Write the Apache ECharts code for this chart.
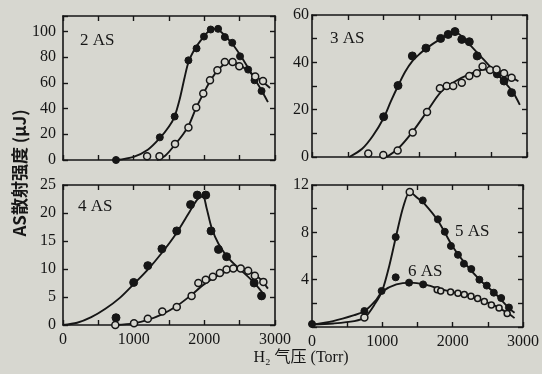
<!DOCTYPE html>
<html>
<head>
<meta charset="utf-8">
<script src="https://cdn.jsdelivr.net/npm/echarts@6/dist/echarts.min.js"></script>
<style>
  html, body { margin: 0; padding: 0; background: #d7d7d0; }
  #chart { width: 542px; height: 374px; }
</style>
</head>
<body>
<div id="chart"></div>
<script>
const as2Solid = [[750,0],[1370,17.6],[1580,33.8],[1775,77.5],[1890,86.8],[1995,96],[2090,101.5],[2195,102],[2290,95.6],[2395,91.2],[2505,80.6],[2620,70.3],[2710,62],[2810,53.7]];
const as2Open = [[1190,3],[1365,3],[1585,12.4],[1775,25.3],[1885,40.8],[1985,51.7],[2080,62],[2185,69.8],[2290,76.2],[2400,76.2],[2495,73],[2720,65],[2830,61.5]];
const as3Solid = [[1000,17],[1200,30.2],[1400,42.7],[1590,46],[1795,50.1],[1900,51.8],[1995,53],[2090,49.7],[2195,48.7],[2305,42.7],[2585,35.1],[2680,32.1],[2785,27.2]];
const as3Open = [[785,1.5],[995,0.8],[1195,2.7],[1405,10.4],[1605,19],[1785,29],[1880,30],[1970,30],[2090,31.4],[2195,34.2],[2300,35.4],[2380,38.2],[2485,36.8],[2575,37],[2680,35.4],[2785,33.5]];
const as4Solid = [[750,1.3],[1000,7.6],[1200,10.6],[1400,13.6],[1610,16.8],[1805,21.5],[1900,23.2],[2020,23.2],[2095,16.8],[2200,13.5],[2315,12.2],[2705,7.5],[2810,5.2]];
const as4Open = [[740,0],[1005,0.3],[1200,1.1],[1405,2.4],[1610,3.2],[1820,5.2],[1915,7.5],[2020,8.1],[2120,8.6],[2220,9.3],[2315,9.9],[2410,10.1],[2515,10.1],[2620,9.7],[2715,8.8],[2835,7.7]];
const as5Solid = [[0,0.25],[990,3.05],[1190,7.6],[1575,10.7],[1790,9.1],[1888,8.05],[1975,6.85],[2075,6.1],[2160,5.35],[2265,4.9],[2380,4.0],[2485,3.5],[2585,2.9],[2690,2.45],[2800,1.65]];
const as5Open = [[745,0.8],[1390,11.4]];
const as6Solid = [[745,1.35],[1190,4.2],[1380,3.75],[1580,3.6]];
const as6Open = [[1780,3.15],[1830,3.05],[1970,2.95],[2075,2.85],[2165,2.75],[2260,2.6],[2355,2.4],[2450,2.15],[2550,1.85],[2660,1.6],[2775,1.15]];

// fitted curves as drawn in the figure
const as2SolidCurve = [[750,0],[1000,2.5],[1200,8],[1370,17],[1500,26],[1580,34],[1650,47],[1720,64],[1775,76],[1850,85],[1950,93],[2050,99.5],[2150,102],[2250,99],[2400,90],[2550,78],[2700,64],[2800,55],[2900,45]];
const as2OpenCurve = [[1330,0],[1450,3.5],[1585,12],[1700,20],[1780,27],[1880,40],[1990,52],[2100,63],[2200,70.5],[2300,75],[2400,76],[2500,74],[2600,70],[2700,66],[2800,62],[2930,56]];
const as3SolidCurve = [[520,0],[700,3.5],[850,9],[1000,16.5],[1100,23.5],[1200,30],[1300,36],[1400,40.5],[1500,43.5],[1600,46],[1800,50],[1950,52.5],[2050,52],[2200,47.5],[2400,41],[2600,34.5],[2800,27.5],[2900,22]];
const as3OpenCurve = [[1040,0],[1200,3.5],[1400,10.5],[1600,19],[1800,27.5],[2000,32],[2200,35],[2400,37],[2550,37],[2700,35],[2880,32]];
const as4SolidCurve = [[0,0],[200,0.4],[400,1.4],[600,2.9],[800,4.8],[1000,7.3],[1200,9.9],[1400,12.9],[1600,16.3],[1800,20.4],[1900,22.4],[1980,23],[2030,21],[2100,17.5],[2200,14.5],[2350,11.8],[2500,10],[2700,7.6],[2850,5.3]];
const as4OpenCurve = [[750,0],[1000,0.3],[1200,0.9],[1400,1.9],[1600,3.3],[1800,5.2],[2000,7.3],[2200,8.9],[2400,9.9],[2550,10],[2700,9.1],[2800,8.1],[2900,6.5]];
const as5Curve = [[0,0.2],[300,0.3],[600,0.5],[750,0.8],[900,2.0],[1000,3.1],[1100,5.2],[1200,7.8],[1300,10.2],[1390,11.4],[1500,10.9],[1600,10.4],[1800,8.9],[2000,6.8],[2200,5.2],[2400,3.9],[2600,2.85],[2800,1.6],[2880,1.2]];
const as6Curve = [[0,0.2],[300,0.5],[600,1.0],[750,1.35],[900,2.2],[1000,3.0],[1200,3.6],[1400,3.75],[1600,3.6],[1800,3.25],[2000,2.95],[2200,2.7],[2400,2.3],[2600,1.8],[2800,1.1],[2880,0.75]];

const yMax = [112, 60, 25, 12];
const yStep = [20, 10, 5, 2];
const yLabelEvery = [20, 20, 5, 4];
const panelNames = ['2 AS', '3 AS', '4 AS', '5 AS', '6 AS'];

const ink = '#161616';
const paper = '#d7d7d0';
const font = 'Liberation Serif';

const chart = echarts.init(document.getElementById('chart'));

const grids = [
  { left: 63, top: 16, width: 212, height: 144 },
  { left: 312, top: 15, width: 215, height: 142 },
  { left: 63, top: 185, width: 212, height: 140 },
  { left: 312, top: 185, width: 214, height: 142 }
];

const xAxes = [];
const yAxes = [];
grids.forEach((g, i) => {
  const bottomRow = i >= 2;
  const base = {
    gridIndex: i, type: 'value', min: 0, max: 3000, interval: 500,
    axisLine: { show: true, onZero: false, lineStyle: { color: ink, width: 1.6 } },
    axisTick: { show: true, inside: true, length: 5, lineStyle: { color: ink, width: 1.4 } },
    splitLine: { show: false }
  };
  xAxes.push(Object.assign({}, base, {
    position: 'bottom',
    axisLabel: {
      show: bottomRow, margin: 7, color: ink, fontFamily: font, fontSize: 16,
      formatter: v => (v % 1000 === 0 ? String(v) : '')
    }
  }));
  xAxes.push(Object.assign({}, base, { position: 'top', axisLabel: { show: false } }));

  const ybase = {
    gridIndex: i, type: 'value', min: 0, max: yMax[i], interval: yStep[i],
    axisLine: { show: true, onZero: false, lineStyle: { color: ink, width: 1.6 } },
    axisTick: { show: true, inside: true, length: 5, lineStyle: { color: ink, width: 1.4 } },
    splitLine: { show: false }
  };
  yAxes.push(Object.assign({}, ybase, {
    position: 'left',
    axisLabel: {
      margin: i % 2 === 0 ? 7 : 3, color: ink, fontFamily: font, fontSize: 16,
      formatter: v => {
        if (v % yLabelEvery[i] !== 0) return '';
        if (i === 3 && v === 0) return '';
        return String(v);
      }
    }
  }));
  yAxes.push(Object.assign({}, ybase, { position: 'right', axisLabel: { show: false } }));
});

function curve(data, i) {
  return {
    type: 'line', data, xAxisIndex: i * 2, yAxisIndex: i * 2,
    smooth: 0.3, showSymbol: false, silent: true,
    lineStyle: { color: ink, width: 1.9 }, z: 2
  };
}
function dots(data, i, open, size) {
  return {
    type: 'scatter', data, xAxisIndex: i * 2, yAxisIndex: i * 2,
    symbol: 'circle', symbolSize: size || 7, z: 3,
    itemStyle: open
      ? { color: paper, borderColor: ink, borderWidth: 1.5, opacity: 1 }
      : { color: ink, borderColor: ink, borderWidth: 1, opacity: 1 }
  };
}

const series = [
  curve(as2SolidCurve, 0), curve(as2OpenCurve, 0),
  dots(as2Solid, 0, false), dots(as2Open, 0, true),
  curve(as3SolidCurve, 1), curve(as3OpenCurve, 1),
  dots(as3Solid, 1, false, 8), dots(as3Open, 1, true),
  curve(as4SolidCurve, 2), curve(as4OpenCurve, 2),
  dots(as4Solid, 2, false, 8), dots(as4Open, 2, true),
  curve(as5Curve, 3), curve(as6Curve, 3),
  dots(as5Solid, 3, false), dots(as5Open, 3, true),
  dots(as6Solid, 3, false), dots(as6Open, 3, true, 6)
];

function label(text, x, y) {
  return {
    type: 'text', left: x, top: y,
    style: { text, fill: ink, font: '17px "Liberation Serif"' }
  };
}

const option = {
  backgroundColor: paper,
  animation: false,
  grid: grids,
  xAxis: xAxes,
  yAxis: yAxes,
  series,
  graphic: [
    label(panelNames[0], 80, 32),
    label(panelNames[1], 330, 30),
    label(panelNames[2], 78, 198),
    label(panelNames[3], 455, 223),
    label(panelNames[4], 408, 263),
    {
      type: 'text', x: 20, y: 173, rotation: Math.PI / 2,
      style: {
        text: 'AS散射强度 (μJ)', fill: ink, align: 'center', verticalAlign: 'middle',
        font: 'bold 17px "Noto Sans CJK SC", "Liberation Serif"'
      }
    },
    {
      type: 'text', x: 301, y: 358,
      style: {
        text: 'H₂ 气压 (Torr)', fill: ink, align: 'center', verticalAlign: 'middle',
        font: '16px "Liberation Serif", "Noto Sans CJK SC"'
      }
    }
  ]
};

chart.setOption(option);
</script>
</body>
</html>
